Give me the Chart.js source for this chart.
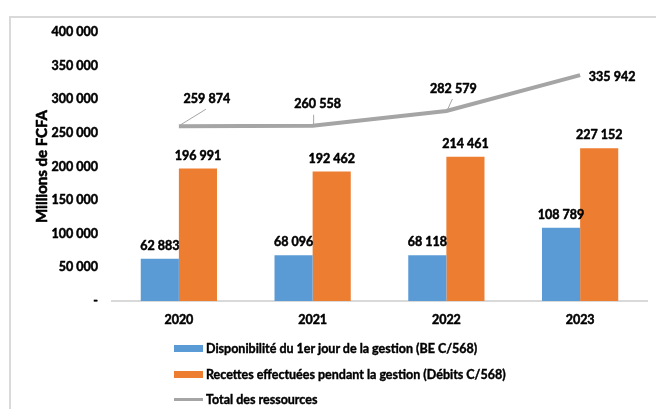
<!DOCTYPE html>
<html lang="fr">
<head>
<meta charset="utf-8">
<script src="https://cdn.jsdelivr.net/npm/chart.js@4"></script>
<style>
  html, body { margin: 0; padding: 0; background: #fff; }
  #wrap { position: relative; width: 656px; height: 409px; overflow: hidden; }
  #frame { position: absolute; left: 9px; top: 16px; width: 700px; height: 500px;
           border-top: 2px solid #d9d9d9; border-left: 2px solid #d9d9d9; }
  canvas { position: absolute; left: 0; top: 0; }
  #legend { position: absolute; left: 174px; top: 336px; font: bold 12.5px Lato, sans-serif; color: #000;
            -webkit-text-stroke: 0.4px #000; }
  .item { display: flex; align-items: center; height: 25.5px; }
  .swatch { width: 29px; margin-right: 3px; }
</style>
</head>
<body>
<div id="wrap">
  <div id="frame"></div>
  <canvas id="chart" width="656" height="409"></canvas>
  <div id="legend"></div>
</div>
<script>
const years = ["2020", "2021", "2022", "2023"];
const disponibilite = [62883, 68096, 68118, 108789];
const recettes = [196991, 192462, 214461, 227152];
const totalRessources = [259874, 260558, 282579, 335942];
const yTicks = [0, 50000, 100000, 150000, 200000, 250000, 300000, 350000, 400000];
const yTitle = "Millions de FCFA";

const colors = {
  blue: "#5b9bd5",
  orange: "#ed7d31",
  grey: "#a5a5a5",
  axis: "#d9d9d9",
};

// label offsets for the line values (label centre relative to point, leader end)
const lineLabelOffsets = [
  { dx: 28, dy: -27, lx: 27, ly: -17 },
  { dx: 5, dy: -22, lx: 1, ly: -11 },
  { dx: 7, dy: -22, lx: 6, ly: -12 },
  { dx: 32, dy: 2, lx: null, ly: null },
];

function fmt(v) {
  if (v === 0) return "-";
  return String(v).replace(/\B(?=(\d{3})+(?!\d))/g, " ");
}

const font = { family: "Lato, sans-serif", size: 12.5, weight: "bold" };

// draw text with a hairline stroke so it reads as heavy as the original
function heavyText(ctx, txt, x, y) {
  ctx.strokeText(txt, x, y);
  ctx.fillText(txt, x, y);
}

const valueLabels = {
  id: "valueLabels",
  afterDatasetsDraw(chart) {
    const ctx = chart.ctx;
    const area = chart.chartArea;
    ctx.save();
    ctx.fillStyle = "#000";
    ctx.textAlign = "center";
    ctx.textBaseline = "middle";
    ctx.lineJoin = "round";

    // y axis title
    ctx.save();
    ctx.font = "bold 15px Lato, sans-serif";
    ctx.strokeStyle = "#000";
    ctx.lineWidth = 0.6;
    ctx.translate(42, (area.top + area.bottom) / 2);
    ctx.rotate(-Math.PI / 2);
    heavyText(ctx, yTitle, 0, 0);
    ctx.restore();

    ctx.font = "bold 12.5px Lato, sans-serif";
    [0, 1].forEach((di) => {
      const meta = chart.getDatasetMeta(di);
      meta.data.forEach((bar, i) => {
        const v = chart.data.datasets[di].data[i];
        ctx.strokeStyle = "#000";
        ctx.lineWidth = 0.5;
        heavyText(ctx, fmt(v), bar.x, bar.y - 13);
      });
    });
    const lineMeta = chart.getDatasetMeta(2);
    lineMeta.data.forEach((pt, i) => {
      const o = lineLabelOffsets[i];
      if (o.lx !== null) {
        ctx.strokeStyle = "#a5a5a5";
        ctx.lineWidth = 1;
        ctx.beginPath();
        ctx.moveTo(pt.x + 1, pt.y - 1);
        ctx.lineTo(pt.x + o.lx, pt.y + o.ly);
        ctx.stroke();
      }
      ctx.strokeStyle = "#000";
      ctx.lineWidth = 0.5;
      heavyText(ctx, fmt(totalRessources[i]), pt.x + o.dx, pt.y + o.dy);
    });
    ctx.restore();
  },
};

new Chart(document.getElementById("chart").getContext("2d"), {
  type: "bar",
  data: {
    labels: years,
    datasets: [
      {
        label: "Disponibilité du 1er jour de la gestion (BE C/568)",
        data: disponibilite,
        backgroundColor: colors.blue,
        categoryPercentage: 0.57,
        barPercentage: 1,
        order: 2,
      },
      {
        label: "Recettes effectuées pendant la gestion (Débits C/568)",
        data: recettes,
        backgroundColor: colors.orange,
        categoryPercentage: 0.57,
        barPercentage: 1,
        order: 2,
      },
      {
        type: "line",
        label: "Total des ressources",
        data: totalRessources,
        borderColor: colors.grey,
        backgroundColor: colors.grey,
        borderWidth: 4,
        pointRadius: 0,
        tension: 0,
        order: 1,
      },
    ],
  },
  options: {
    responsive: false,
    animation: false,
    layout: { padding: { left: 0, right: 9, top: 32, bottom: 78 } },
    plugins: {
      legend: { display: false },
      tooltip: { enabled: false },
    },
    scales: {
      x: {
        grid: { display: false },
        border: { color: colors.axis, width: 2 },
        ticks: { color: "#000", font: font, padding: 3, textStrokeColor: "#000", textStrokeWidth: 0.5 },
        afterFit: (s) => { s.height = 30; },
      },
      y: {
        min: 0,
        max: 400000,
        afterBuildTicks: (s) => { s.ticks = yTicks.map((v) => ({ value: v })); },
        grid: { display: false },
        border: { display: false },
        ticks: { color: "#000", font: font, padding: 6, textStrokeColor: "#000", textStrokeWidth: 0.5,
                 callback: (v) => fmt(v) },
        afterFit: (s) => { s.width = 112; },
      },
    },
  },
  plugins: [valueLabels],
});

// legend below the plot, one entry per row
const legendEl = document.getElementById("legend");
const legendItems = [
  { text: "Disponibilité du 1er jour de la gestion (BE C/568)", color: colors.blue, h: 7 },
  { text: "Recettes effectuées pendant la gestion (Débits C/568)", color: colors.orange, h: 7 },
  { text: "Total des ressources", color: colors.grey, h: 3 },
];
legendItems.forEach((it) => {
  const row = document.createElement("div");
  row.className = "item";
  const sw = document.createElement("span");
  sw.className = "swatch";
  sw.style.height = it.h + "px";
  sw.style.background = it.color;
  const label = document.createElement("span");
  label.textContent = it.text;
  row.appendChild(sw);
  row.appendChild(label);
  legendEl.appendChild(row);
});
</script>
</body>
</html>
